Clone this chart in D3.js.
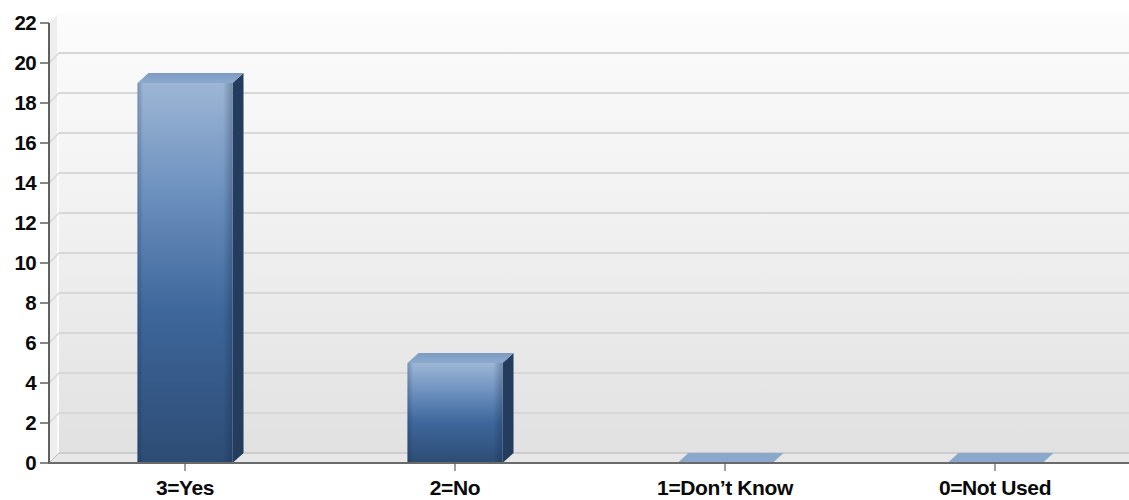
<!DOCTYPE html>
<html>
<head>
<meta charset="utf-8">
<script src="https://cdn.jsdelivr.net/npm/d3@7"></script>
<style>
  html, body { margin: 0; padding: 0; background: #ffffff; }
  svg { display: block; }
  text { font-family: "Liberation Sans", Arial, Helvetica, sans-serif; font-weight: bold; fill: #0a0a0a; }
</style>
</head>
<body>
<svg id="chart" width="1129" height="500"></svg>
<script>
// Survey responses per answer code
const categories = ["3=Yes", "2=No", "1=Don\u2019t Know", "0=Not Used"];
const counts = [19, 5, 0, 0];
const yTicks = [0, 2, 4, 6, 8, 10, 12, 14, 16, 18, 20, 22];

const W = 1129, H = 500;
const plotLeft = 49, plotRight = 1130, plotTop = 23, plotBottom = 463;
const wallDx = 10, wallDy = -10;   // depth of the back wall
const barDx = 11, barDy = -10;     // depth of each bar

const svg = d3.select("#chart");
const defs = svg.append("defs");

const y = d3.scaleLinear().domain([0, 22]).range([plotBottom, plotTop]);
const x = d3.scalePoint().domain(categories).range([plotLeft + 1, plotRight]).padding(0.5);
const barW = x.step() * 0.352;

// gradients
const wallGrad = defs.append("linearGradient").attr("id", "wall")
  .attr("x1", 0).attr("y1", 0).attr("x2", 0).attr("y2", 1);
wallGrad.append("stop").attr("offset", "0%").attr("stop-color", "#fcfcfc");
wallGrad.append("stop").attr("offset", "45%").attr("stop-color", "#f1f1f1");
wallGrad.append("stop").attr("offset", "100%").attr("stop-color", "#e1e1e1");

const frontGrad = defs.append("linearGradient").attr("id", "front")
  .attr("x1", 0).attr("y1", 0).attr("x2", 0).attr("y2", 1);
frontGrad.append("stop").attr("offset", "0%").attr("stop-color", "#9db6d5");
frontGrad.append("stop").attr("offset", "30%").attr("stop-color", "#6b8fbd");
frontGrad.append("stop").attr("offset", "60%").attr("stop-color", "#3e679b");
frontGrad.append("stop").attr("offset", "100%").attr("stop-color", "#2d4c74");

const shadeGrad = defs.append("linearGradient").attr("id", "shade")
  .attr("x1", 0).attr("y1", 0).attr("x2", 1).attr("y2", 0);
shadeGrad.append("stop").attr("offset", "0%").attr("stop-color", "#0d2240").attr("stop-opacity", 0.25);
shadeGrad.append("stop").attr("offset", "6%").attr("stop-color", "#0d2240").attr("stop-opacity", 0);
shadeGrad.append("stop").attr("offset", "90%").attr("stop-color", "#0d2240").attr("stop-opacity", 0);
shadeGrad.append("stop").attr("offset", "100%").attr("stop-color", "#0d2240").attr("stop-opacity", 0.3);

const topGrad = defs.append("linearGradient").attr("id", "topface")
  .attr("x1", 0).attr("y1", 0).attr("x2", 0).attr("y2", 1);
topGrad.append("stop").attr("offset", "0%").attr("stop-color", "#7d9bc2");
topGrad.append("stop").attr("offset", "100%").attr("stop-color", "#8ca9cd");

// back wall
const wallTop = y(22) + wallDy, wallBottom = plotBottom + wallDy, wallLeft = plotLeft + wallDx;
svg.append("rect")
  .attr("x", wallLeft).attr("y", wallTop)
  .attr("width", W - wallLeft).attr("height", wallBottom - wallTop)
  .attr("fill", "url(#wall)");

// side wall
svg.append("path")
  .attr("d", `M${plotLeft},${y(22)}L${wallLeft},${wallTop}L${wallLeft},${wallBottom}L${plotLeft},${plotBottom}Z`)
  .attr("fill", "#eeeeee");
svg.append("line")
  .attr("x1", wallLeft - 1).attr("x2", wallLeft - 1).attr("y1", wallTop).attr("y2", wallBottom)
  .attr("stroke", "#fbfbfb").attr("stroke-width", 2);

// floor
svg.append("path")
  .attr("d", `M${plotLeft},${plotBottom}L${wallLeft},${wallBottom}L${W},${wallBottom}L${W},${plotBottom}Z`)
  .attr("fill", "#e7e7e7");
svg.append("line")
  .attr("x1", wallLeft).attr("x2", W).attr("y1", wallBottom).attr("y2", wallBottom)
  .attr("stroke", "#c4c4c4").attr("stroke-width", 1.5);
svg.append("line")
  .attr("x1", plotLeft).attr("x2", wallLeft).attr("y1", plotBottom).attr("y2", wallBottom)
  .attr("stroke", "#bdbdbd").attr("stroke-width", 1);

// gridlines on the back and side walls
const grid = svg.append("g");
yTicks.filter(v => v > 0 && v < 22).forEach(v => {
  grid.append("line")
    .attr("x1", wallLeft).attr("x2", W)
    .attr("y1", y(v) + wallDy).attr("y2", y(v) + wallDy)
    .attr("stroke", "#d7d7d7").attr("stroke-width", 2);
  grid.append("line")
    .attr("x1", plotLeft).attr("x2", wallLeft)
    .attr("y1", y(v)).attr("y2", y(v) + wallDy)
    .attr("stroke", "#d7d7d7").attr("stroke-width", 1.5);
});

// bars
const bars = svg.append("g").selectAll("g").data(categories).join("g");
bars.each(function (c, i) {
  const g = d3.select(this);
  const v = counts[i];
  const x0 = x(c) - barW / 2, x1 = x(c) + barW / 2;
  const yt = y(v), yb = y(0);
  if (v > 0) {
    // side face
    g.append("path")
      .attr("d", `M${x1},${yt}L${x1 + barDx},${yt + barDy}L${x1 + barDx},${yb + barDy}L${x1},${yb}Z`)
      .attr("fill", "#243d5e");
    // front face
    g.append("rect").attr("x", x0).attr("y", yt).attr("width", barW).attr("height", yb - yt)
      .attr("fill", "url(#front)");
    g.append("rect").attr("x", x0).attr("y", yt).attr("width", barW).attr("height", yb - yt)
      .attr("fill", "url(#shade)");
  }
  // top face
  g.append("path")
    .attr("d", `M${x0},${yt}L${x0 + barDx},${yt + barDy}L${x1 + barDx},${yt + barDy}L${x1},${yt}Z`)
    .attr("fill", v > 0 ? "url(#topface)" : "#8aa8cc");
});

// y axis
const yAxis = svg.append("g");
yAxis.append("line")
  .attr("x1", plotLeft).attr("x2", plotLeft).attr("y1", y(22)).attr("y2", plotBottom + 1)
  .attr("stroke", "#5f5f5f").attr("stroke-width", 2);
yAxis.selectAll("line.tick").data(yTicks).join("line").attr("class", "tick")
  .attr("x1", plotLeft - 9).attr("x2", plotLeft).attr("y1", d => y(d)).attr("y2", d => y(d))
  .attr("stroke", "#5f5f5f").attr("stroke-width", 1.5);
yAxis.selectAll("text").data(yTicks).join("text")
  .attr("x", 36).attr("y", d => y(d)).attr("dy", "0.36em")
  .attr("text-anchor", "end").attr("font-size", 20.5).attr("letter-spacing", -0.6)
  .text(d => d);

// x axis
const xAxis = svg.append("g");
xAxis.append("line")
  .attr("x1", plotLeft).attr("x2", W).attr("y1", plotBottom).attr("y2", plotBottom)
  .attr("stroke", "#6a6a6a").attr("stroke-width", 2);
xAxis.selectAll("line.tick").data(categories).join("line").attr("class", "tick")
  .attr("x1", d => x(d)).attr("x2", d => x(d)).attr("y1", plotBottom).attr("y2", plotBottom + 8)
  .attr("stroke", "#5f5f5f").attr("stroke-width", 1.2);
xAxis.selectAll("text").data(categories).join("text")
  .attr("x", d => x(d)).attr("y", 495)
  .attr("text-anchor", "middle").attr("font-size", 21).attr("letter-spacing", -0.4)
  .text(d => d);
</script>
</body>
</html>
